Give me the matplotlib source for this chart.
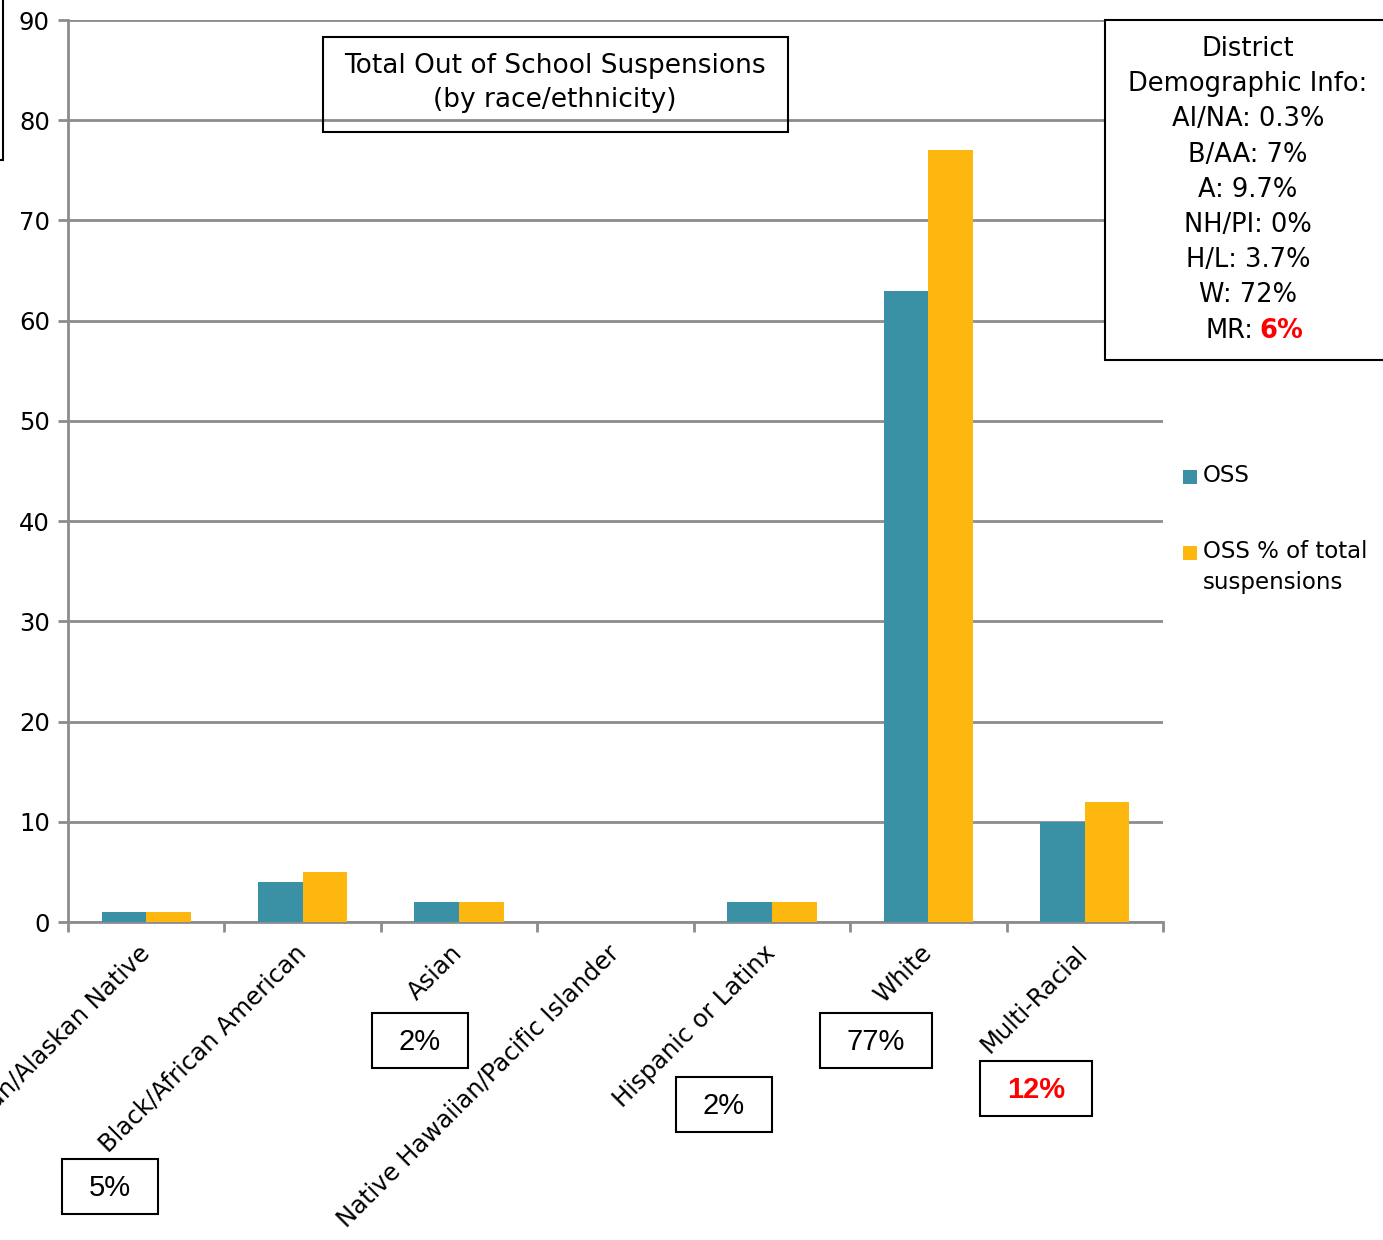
import matplotlib.pyplot as plt
import matplotlib.patches as patches
import matplotlib.transforms as mtransforms
import numpy as np

# dados
categorias = [
    "American Indian/Alaskan Native",
    "Black/African American",
    "Asian",
    "Native Hawaiian/Pacific Islander",
    "Hispanic or Latinx",
    "White",
    "Multi-Racial",
]
oss = [1, 4, 2, 0, 2, 63, 10]
oss_pct = [1, 5, 2, 0, 2, 77, 12]
demografia = ["AI/NA: 0.3%", "B/AA: 7%", "A: 9.7%", "NH/PI: 0%", "H/L: 3.7%", "W: 72%"]
caixas_pct = ["5%", "2%", "2%", "77%", "12%"]
legenda = ["OSS", "OSS % of total\nsuspensions"]

W, H = 1383, 1240
cor_oss = "#3A91A6"
cor_pct = "#FDB70F"
cinza = "#8C8C8C"

plt.rcParams["font.family"] = ["DejaVu Sans"]

fig = plt.figure(figsize=(W / 100, H / 100), dpi=100)
ax = fig.add_axes([68 / W, 1 - 922 / H, (1163 - 68) / W, (922 - 20) / H])


def fx(x):
    return x / W


def fy(y):
    return 1 - y / H


x = np.arange(len(categorias))
larg = 0.285
b1 = ax.bar(x - larg / 2, oss, larg, color=cor_oss, zorder=3)
b2 = ax.bar(x + larg / 2, oss_pct, larg, color=cor_pct, zorder=3)

ax.set_xlim(-0.5, len(categorias) - 0.5)
ax.set_ylim(0, 90)
ax.set_yticks(np.arange(0, 91, 10))
ax.yaxis.grid(True, color=cinza, lw=2, zorder=0)
ax.set_axisbelow(True)
for s in ["top", "right"]:
    ax.spines[s].set_visible(False)
for s in ["left", "bottom"]:
    ax.spines[s].set_color(cinza)
    ax.spines[s].set_linewidth(2)

# rotulos das categorias (desenhados a mao para poder deslocar)
ax.set_xticks([])
ax.set_xticks(np.arange(-0.5, len(categorias), 1), minor=True)
ax.tick_params(axis="x", which="minor", length=7, width=2, color=cinza)
ax.tick_params(axis="y", length=7, width=2, color=cinza, labelsize=17.5, pad=6)
desloc = mtransforms.ScaledTranslation(-9 / 100, -19 / 100, fig.dpi_scale_trans)
for i, c in enumerate(categorias):
    ax.text(i, 0, c, transform=ax.get_xaxis_transform() + desloc,
            rotation=45, ha="right", va="top", rotation_mode="anchor",
            fontsize=17.5)

# caixa do titulo
fig.text(fx(555), fy(83), "Total Out of School Suspensions\n(by race/ethnicity)",
         ha="center", va="center", fontsize=19, linespacing=1.4)
fig.add_artist(patches.Rectangle((fx(323), fy(132)), fx(788 - 323), (132 - 37) / H,
                                 transform=fig.transFigure, fill=False, lw=1.5,
                                 ec="black"))

# caixa cortada no canto
fig.add_artist(patches.Rectangle((fx(-20), fy(160)), fx(23), 200 / H,
                                 transform=fig.transFigure, fill=False, lw=1.5,
                                 ec="black", clip_on=False))

# caixa demografica
fig.add_artist(patches.Rectangle((fx(1105), fy(360)), fx(300), 340 / H,
                                 transform=fig.transFigure, fill=True, fc="white",
                                 lw=1.5, ec="black", zorder=5))
linhas = ["District", "Demographic Info:"] + demografia
y0 = 49
for i, t in enumerate(linhas):
    fig.text(fx(1248), fy(y0 + i * 35.2), t, ha="center", va="center",
             fontsize=18.5, zorder=6)
yl = y0 + len(linhas) * 35.2
fig.text(fx(1253), fy(yl), "MR:", ha="right", va="center", fontsize=18.5, zorder=6)
fig.text(fx(1259), fy(yl), "6%", ha="left", va="center", fontsize=18.5,
         color="red", fontweight="bold", zorder=6)

# legenda
for (py, cor), t in zip([(477, cor_oss), (553, cor_pct)], legenda):
    fig.add_artist(patches.Rectangle((fx(1183), fy(py + 7)), fx(14), 14 / H,
                                     transform=fig.transFigure, fc=cor, lw=0))
    fig.text(fx(1203), fy(py - 13), t, ha="left", va="top", fontsize=16.5,
             linespacing=1.45)

# caixas de porcentagem
pos_caixas = [(62, 1159, 96), (372, 1013, 96), (676, 1077, 96),
              (820, 1013, 112), (980, 1061, 112)]
for (px, py, pw), t in zip(pos_caixas, caixas_pct):
    vermelho = t == "12%"
    fig.add_artist(patches.Rectangle((fx(px), fy(py + 55)), fx(pw), 55 / H,
                                     transform=fig.transFigure, fill=False,
                                     lw=1.5, ec="black"))
    fig.text(fx(px + pw / 2), fy(py + 29), t, ha="center", va="center",
             fontsize=21, family="Liberation Sans",
             color="red" if vermelho else "black",
             fontweight="bold" if vermelho else "normal")

plt.savefig("out.png", dpi=100)
